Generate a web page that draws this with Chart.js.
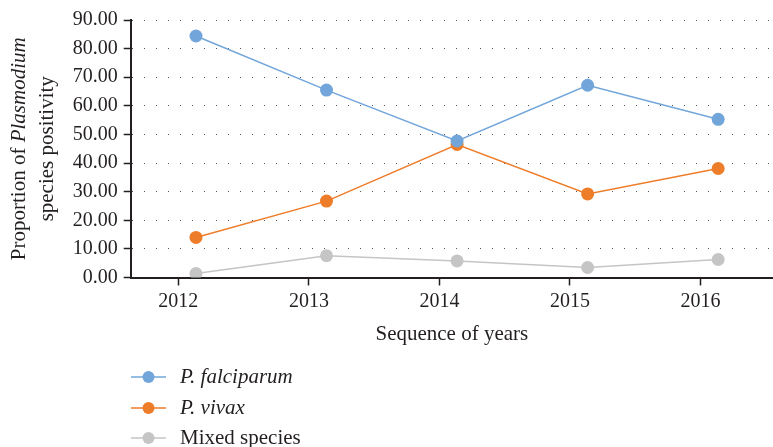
<!DOCTYPE html>
<html>
<head>
<meta charset="utf-8">
<script src="https://cdn.jsdelivr.net/npm/chart.js@4/dist/chart.umd.min.js"></script>
<style>
  html, body { margin: 0; padding: 0; background: #ffffff; }
  #wrap { width: 773px; height: 447px; position: relative; }
</style>
</head>
<body>
<div id="wrap"><canvas id="c" width="773" height="447"></canvas></div>
<script>
// ---- data ----
const years = ['2012', '2013', '2014', '2015', '2016'];
const falciparum = [84.4, 65.5, 47.7, 67.2, 55.3];
const vivax = [14.0, 26.7, 46.5, 29.2, 38.1];
const mixed = [1.4, 7.6, 5.8, 3.5, 6.3];
const seriesNames = ['P. falciparum', 'P. vivax', 'Mixed species'];
const seriesItalic = [true, true, false];
const yTickValues = [0, 10, 20, 30, 40, 50, 60, 70, 80, 90];
const yTitleParts = [['Proportion of ', false], ['Plasmodium', true]];
const yTitleLine2 = 'species positivity';
const xTitle = 'Sequence of years';

// ---- style ----
const FONT = '"Liberation Serif", "Times New Roman", serif';
const TEXT = '#231F20';
const colors = ['#72A6DA', '#EE7D2A', '#C5C5C5'];

const yTitlePlugin = {
  id: 'yTitle',
  afterDraw(chart) {
    const ctx = chart.ctx, ca = chart.chartArea;
    const cy = (ca.top + ca.bottom) / 2;
    ctx.save();
    ctx.fillStyle = TEXT;
    ctx.textBaseline = 'middle';
    ctx.textAlign = 'left';
    ctx.translate(19, cy);
    ctx.rotate(-Math.PI / 2);
    let widths = yTitleParts.map(p => {
      ctx.font = (p[1] ? 'italic ' : '') + '21px ' + FONT;
      return ctx.measureText(p[0]).width;
    });
    let total = widths.reduce((a, b) => a + b, 0);
    let x = -total / 2;
    yTitleParts.forEach((p, i) => {
      ctx.font = (p[1] ? 'italic ' : '') + '21px ' + FONT;
      ctx.fillText(p[0], x, 0);
      x += widths[i];
    });
    ctx.restore();
    ctx.save();
    ctx.fillStyle = TEXT;
    ctx.textBaseline = 'middle';
    ctx.textAlign = 'center';
    ctx.translate(47, cy);
    ctx.rotate(-Math.PI / 2);
    ctx.font = '21px ' + FONT;
    ctx.fillText(yTitleLine2, 0, 0);
    ctx.restore();
  }
};

const legendPlugin = {
  id: 'customLegend',
  afterDraw(chart) {
    const ctx = chart.ctx;
    const rowsY = [377, 408, 438];
    chart.data.datasets.forEach((ds, i) => {
      const y = rowsY[i];
      ctx.save();
      ctx.strokeStyle = ds.borderColor;
      ctx.lineWidth = 1.5;
      ctx.beginPath();
      ctx.moveTo(131, y);
      ctx.lineTo(166, y);
      ctx.stroke();
      ctx.fillStyle = ds.backgroundColor;
      ctx.beginPath();
      ctx.arc(148.5, y, 6, 0, Math.PI * 2);
      ctx.fill();
      ctx.fillStyle = TEXT;
      ctx.font = (seriesItalic[i] ? 'italic ' : '') + '21px ' + FONT;
      ctx.textBaseline = 'middle';
      ctx.textAlign = 'left';
      ctx.fillText(ds.label, 180, y);
      ctx.restore();
    });
  }
};

function makeDataset(label, values, color) {
  return {
    label: label,
    data: values,
    borderColor: color,
    backgroundColor: color,
    borderWidth: 1.5,
    pointRadius: 6.5,
    pointHoverRadius: 6.5,
    pointBorderWidth: 0,
    pointBackgroundColor: color,
    tension: 0,
    fill: false
  };
}

new Chart(document.getElementById('c'), {
  type: 'line',
  data: {
    labels: years,
    datasets: [
      makeDataset(seriesNames[0], falciparum, colors[0]),
      makeDataset(seriesNames[1], vivax, colors[1]),
      makeDataset(seriesNames[2], mixed, colors[2])
    ]
  },
  options: {
    responsive: false,
    animation: false,
    devicePixelRatio: 1,
    layout: { autoPadding: false, padding: { top: 20, left: 0, right: 0, bottom: 0 } },
    plugins: { legend: { display: false }, tooltip: { enabled: false } },
    scales: {
      x: {
        type: 'linear',
        min: 2011.5,
        max: 2016.42,
        afterFit(scale) {
          scale.height = 447 - 277.5;
          scale.paddingLeft = 0;
          scale.paddingRight = 0;
        },
        afterBuildTicks(scale) {
          scale.ticks = years.map(y => ({ value: Number(y) - 0.135 }));
        },
        ticks: {
          autoSkip: false,
          maxRotation: 0,
          padding: 4,
          color: TEXT,
          font: { family: FONT, size: 20 },
          callback: (v, i) => years[i]
        },
        grid: {
          display: true,
          drawOnChartArea: false,
          drawTicks: true,
          tickLength: 8,
          tickColor: TEXT,
          tickWidth: 1.5
        },
        border: { display: true, color: TEXT, width: 2 },
        title: {
          display: true,
          text: xTitle,
          color: TEXT,
          font: { family: FONT, size: 21 },
          padding: { top: 0, bottom: 100 }
        }
      },
      y: {
        min: 0,
        max: 90,
        afterFit(scale) { scale.width = 130.7; },
        afterBuildTicks(scale) {
          scale.ticks = yTickValues.map(v => ({ value: v }));
        },
        ticks: {
          padding: 6,
          color: TEXT,
          font: { family: FONT, size: 20 },
          callback: v => Number(v).toFixed(2)
        },
        grid: {
          display: true,
          drawOnChartArea: true,
          drawTicks: true,
          tickLength: 7,
          color: '#555555',
          lineWidth: 1,
          tickColor: TEXT,
          tickWidth: 1.5
        },
        border: { display: true, color: TEXT, width: 2, dash: [1, 11] }
      }
    }
  },
  plugins: [yTitlePlugin, legendPlugin]
});
</script>
</body>
</html>
